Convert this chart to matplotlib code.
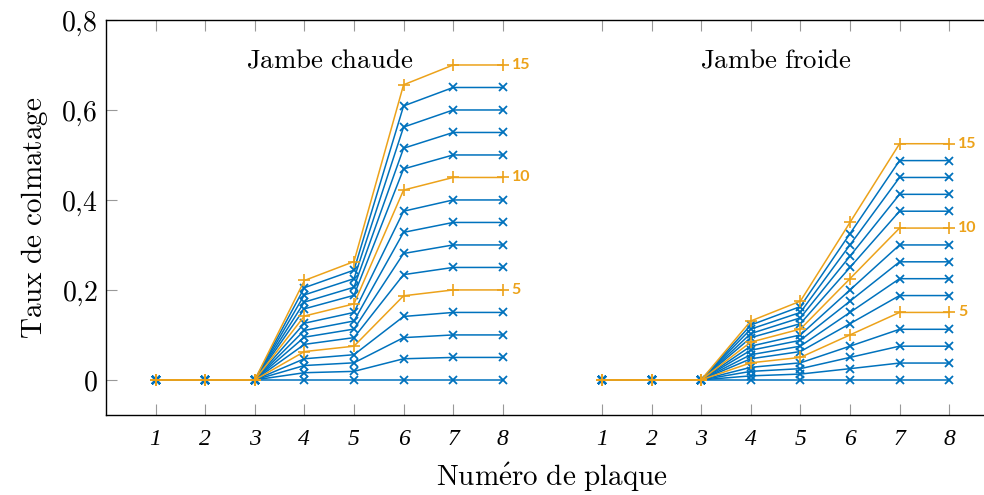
import matplotlib
matplotlib.use("Agg")
import matplotlib.pyplot as plt

plt.rcParams['mathtext.fontset'] = 'cm'

plaques = [1, 2, 3, 4, 5, 6, 7, 8]
decalage_froide = 9  # the cold group sits two steps after plate 8

# taux de colmatage, one row per curve (1..15), one column per plate (1..8)
chaude = [
    [0, 0, 0, 0.000, 0.000, 0.000, 0.00, 0.00],
    [0, 0, 0, 0.016, 0.019, 0.047, 0.05, 0.05],
    [0, 0, 0, 0.032, 0.038, 0.094, 0.10, 0.10],
    [0, 0, 0, 0.047, 0.056, 0.141, 0.15, 0.15],
    [0, 0, 0, 0.063, 0.075, 0.187, 0.20, 0.20],
    [0, 0, 0, 0.079, 0.094, 0.234, 0.25, 0.25],
    [0, 0, 0, 0.095, 0.113, 0.281, 0.30, 0.30],
    [0, 0, 0, 0.110, 0.131, 0.328, 0.35, 0.35],
    [0, 0, 0, 0.126, 0.150, 0.375, 0.40, 0.40],
    [0, 0, 0, 0.142, 0.169, 0.422, 0.45, 0.45],
    [0, 0, 0, 0.158, 0.188, 0.469, 0.50, 0.50],
    [0, 0, 0, 0.173, 0.206, 0.515, 0.55, 0.55],
    [0, 0, 0, 0.189, 0.225, 0.562, 0.60, 0.60],
    [0, 0, 0, 0.205, 0.244, 0.609, 0.65, 0.65],
    [0, 0, 0, 0.221, 0.263, 0.656, 0.70, 0.70],
]
froide = [
    [0, 0, 0, 0.000, 0.000, 0.000, 0.000, 0.000],
    [0, 0, 0, 0.009, 0.013, 0.025, 0.0375, 0.0375],
    [0, 0, 0, 0.019, 0.025, 0.050, 0.075, 0.075],
    [0, 0, 0, 0.028, 0.038, 0.075, 0.1125, 0.1125],
    [0, 0, 0, 0.038, 0.050, 0.100, 0.150, 0.150],
    [0, 0, 0, 0.047, 0.063, 0.125, 0.1875, 0.1875],
    [0, 0, 0, 0.056, 0.075, 0.150, 0.225, 0.225],
    [0, 0, 0, 0.066, 0.088, 0.175, 0.2625, 0.2625],
    [0, 0, 0, 0.075, 0.100, 0.200, 0.300, 0.300],
    [0, 0, 0, 0.084, 0.113, 0.225, 0.3375, 0.3375],
    [0, 0, 0, 0.094, 0.125, 0.250, 0.375, 0.375],
    [0, 0, 0, 0.103, 0.138, 0.275, 0.4125, 0.4125],
    [0, 0, 0, 0.113, 0.150, 0.300, 0.450, 0.450],
    [0, 0, 0, 0.122, 0.163, 0.325, 0.4875, 0.4875],
    [0, 0, 0, 0.131, 0.175, 0.350, 0.525, 0.525],
]
marques = [5, 10, 15]  # curves drawn in orange and labelled
y_ticks = [0, 0.2, 0.4, 0.6, 0.8]
y_labels = ['0', '0,2', '0,4', '0,6', '0,8']

bleu = '#0072bd'
orange = '#eca21a'

fig = plt.figure(figsize=(9.84, 4.95), dpi=100)
# axes runs a little past the right edge of the picture, like the original
ax = fig.add_axes([0.1077, 0.1616, 0.9073, 0.798])

for groupe, dx in [(chaude, 0), (froide, decalage_froide)]:
    xs = [p + dx for p in plaques]
    # blue ones first, orange on top
    for i, ys in enumerate(groupe):
        if i + 1 in marques:
            continue
        ax.plot(xs, ys, color=bleu, lw=1.1, marker='x', ms=6, mew=1.3, zorder=2)
    for i, ys in enumerate(groupe):
        if i + 1 not in marques:
            continue
        ax.plot(xs, ys, color=orange, lw=1.1, marker='+', ms=9, mew=1.2, zorder=3)
        ax.annotate(str(i + 1), (xs[-1], ys[-1]), xytext=(6.5, 0), textcoords='offset points',
                    ha='left', va='center', color=orange, fontsize=11.5,
                    fontweight='bold', family='Lato')

ax.text(4.5, 0.711, r'$\mathrm{Jambe\ chaude}$', ha='center', va='center', fontsize=19.3)
ax.text(4.5 + decalage_froide, 0.711, r'$\mathrm{Jambe\ froide}$', ha='center', va='center', fontsize=19.3)

ax.set_xlim(0, 18)
ax.set_ylim(-0.078, 0.8)

xt = plaques + [p + decalage_froide for p in plaques]
ax.set_xticks(xt)
ax.set_xticklabels(['%d' % p for p in plaques] * 2, fontsize=17,
                   family='Liberation Serif', style='italic')
ax.set_yticks(y_ticks)
ax.set_yticklabels(['$%s$' % s.replace(',', '{,}') for s in y_labels], fontsize=20)

ax.tick_params(axis='x', direction='in', top=True, length=8, width=0.8, color='#999999', pad=10)
ax.tick_params(axis='y', direction='in', length=8, width=0.8, color='#999999', pad=6)
ax.spines['right'].set_visible(False)
for s in ['left', 'top', 'bottom']:
    ax.spines[s].set_linewidth(1.0)

ax.set_xlabel(r'$\mathrm{Num\acute{e}ro\ de\ plaque}$', fontsize=21, labelpad=8)
ax.set_ylabel(r'$\mathrm{Taux\ de\ colmatage}$', fontsize=21, labelpad=8)

fig.savefig('out.png', dpi=100)
